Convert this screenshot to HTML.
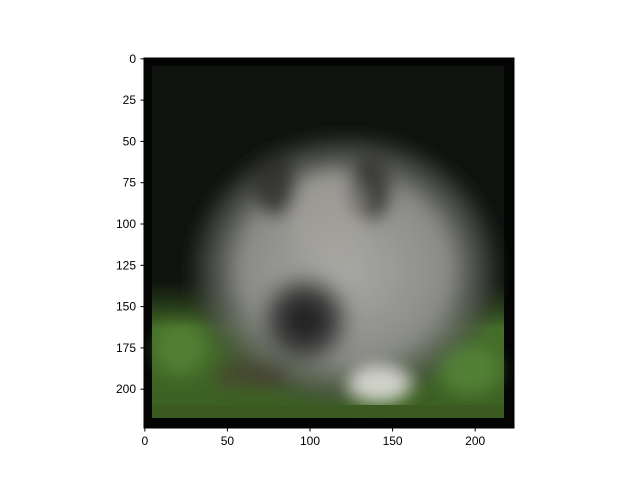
<!DOCTYPE html>
<html><head><meta charset="utf-8"><style>
body{margin:0;background:#fff;width:640px;height:480px;overflow:hidden;font-family:"Liberation Sans",sans-serif}
</style></head><body>
<svg width="640" height="480" xmlns="http://www.w3.org/2000/svg">
<defs>
<radialGradient id="fur" cx="50%" cy="50%" r="50%"><stop offset="0" stop-color="#a8a8a4"/><stop offset="0.65" stop-color="#8a8b87"/><stop offset="0.9" stop-color="#4a4d48" stop-opacity="0.6"/><stop offset="1" stop-color="#2a2d28" stop-opacity="0"/></radialGradient>
<radialGradient id="face" cx="50%" cy="50%" r="50%"><stop offset="0" stop-color="#151515"/><stop offset="0.6" stop-color="#2a2a2a" stop-opacity="0.8"/><stop offset="1" stop-color="#4a4a48" stop-opacity="0"/></radialGradient>
<linearGradient id="grass" x1="0" y1="0" x2="0" y2="1"><stop offset="0" stop-color="#2c4a1c" stop-opacity="0"/><stop offset="0.35" stop-color="#46702a"/><stop offset="1" stop-color="#3a5e22"/></linearGradient>
<filter id="blur"><feGaussianBlur stdDeviation="8"/></filter>
<clipPath id="clip"><rect x="144" y="58" width="370" height="370"/></clipPath>
</defs>
<g clip-path="url(#clip)">
<rect x="144" y="58" width="370" height="370" fill="#030403"/>
<rect x="152" y="66" width="352" height="352" fill="#0f130e"/>
<rect x="152" y="280" width="352" height="138" fill="url(#grass)"/>
<g filter="url(#blur)">
<ellipse cx="345" cy="270" rx="160" ry="140" fill="url(#fur)"/>
<ellipse cx="275" cy="185" rx="22" ry="32" fill="#2e2e2c" opacity="0.8"/>
<ellipse cx="370" cy="190" rx="22" ry="32" fill="#2e2e2c" opacity="0.8"/>
<ellipse cx="305" cy="320" rx="50" ry="50" fill="url(#face)"/>
<ellipse cx="330" cy="215" rx="40" ry="45" fill="#aaa7a0" opacity="0.45"/>
<ellipse cx="380" cy="385" rx="30" ry="18" fill="#e8e6e2" opacity="0.85"/>
<ellipse cx="250" cy="375" rx="40" ry="15" fill="#4a3a30" opacity="0.6"/>
<ellipse cx="470" cy="370" rx="30" ry="25" fill="#5a8a3a" opacity="0.7"/>
<ellipse cx="180" cy="350" rx="25" ry="25" fill="#5a8a3a" opacity="0.6"/>
</g>
<rect x="152" y="405" width="352" height="13" fill="#3b5a22"/>
</g>
<g font-size="12" fill="#000" text-anchor="middle" id="xa"></g>
<g font-size="12" fill="#000" text-anchor="end" id="ya"></g>
<rect x="144" y="58" width="370" height="370" fill="none" stroke="#000" stroke-width="1"/>
</svg>
<script>
const xTicks=[0,50,100,150,200];
const yTicks=[0,25,50,75,100,125,150,175,200];
const sx=v=>144+(v+0.5)*370/224, sy=v=>58+(v+0.5)*370/224;
const ns="http://www.w3.org/2000/svg";
const xa=document.getElementById('xa'), ya=document.getElementById('ya');
xTicks.forEach(t=>{
 const l=document.createElementNS(ns,'line');
 l.setAttribute('x1',sx(t));l.setAttribute('x2',sx(t));l.setAttribute('y1',428);l.setAttribute('y2',431.5);l.setAttribute('stroke','#000');
 
 
 xa.appendChild(l);
 const s=document.createElementNS(ns,'text');
 s.setAttribute('x',sx(t));s.setAttribute('y',445);s.textContent=t;
 
 
 xa.appendChild(s);
});
yTicks.forEach(t=>{
 const l=document.createElementNS(ns,'line');
 l.setAttribute('x1',140.5);l.setAttribute('x2',144);l.setAttribute('y1',sy(t));l.setAttribute('y2',sy(t));l.setAttribute('stroke','#000');
 
 
 ya.appendChild(l);
 const s=document.createElementNS(ns,'text');
 s.setAttribute('x',136);s.setAttribute('y',sy(t)+4);s.textContent=t;
 
 
 ya.appendChild(s);
});
</script>
</body></html>
